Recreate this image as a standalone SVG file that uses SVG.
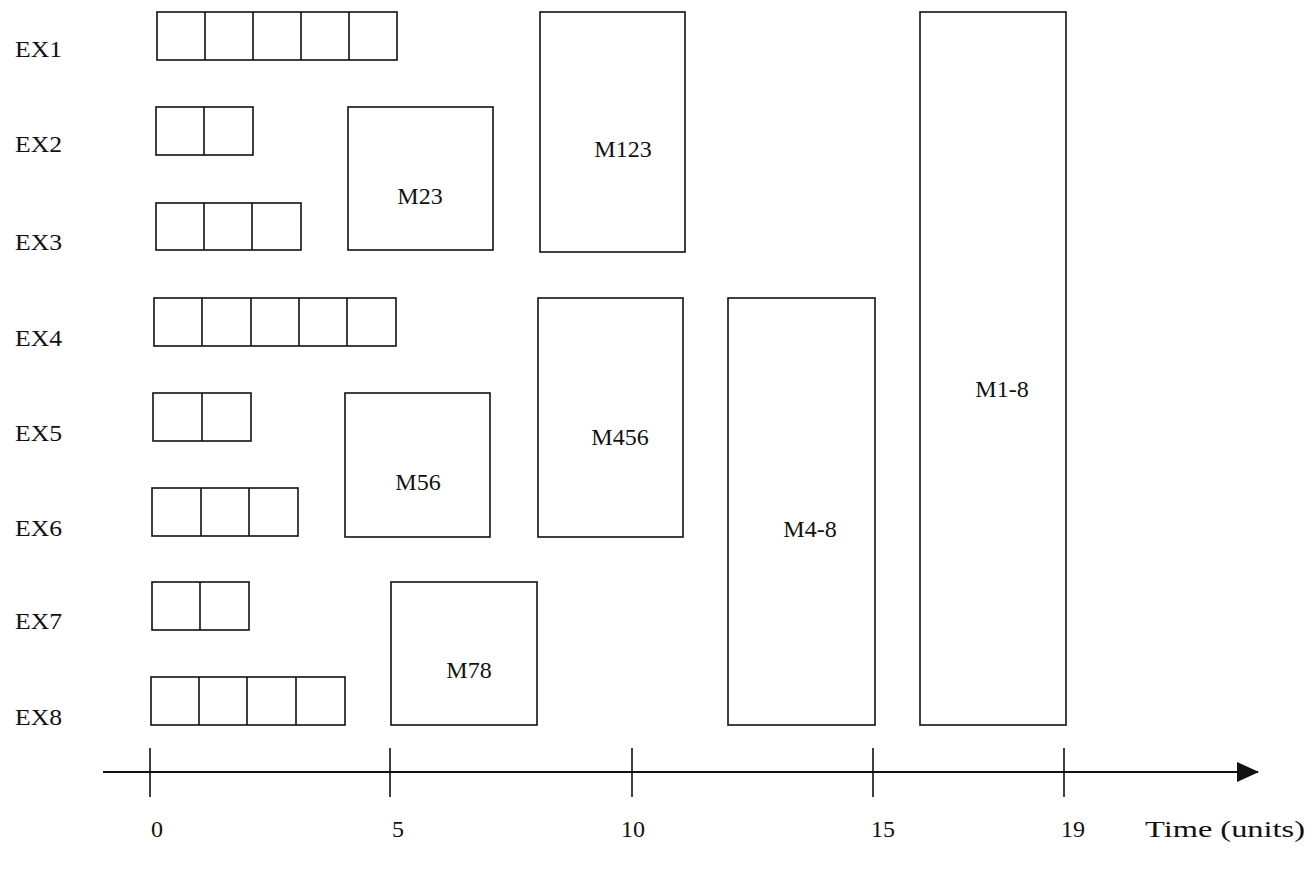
<svg xmlns="http://www.w3.org/2000/svg" width="1314" height="873" viewBox="0 0 1314 873">
<style>
.b{fill:none;stroke:#111;stroke-width:1.6}
.t{font-family:"Liberation Serif","Times New Roman",serif;font-size:24px;fill:#111}
.m{text-anchor:middle}
.ax{stroke:#111;stroke-width:1.8;fill:none}
</style>
<defs>
<marker id="arr" markerWidth="22" markerHeight="20" refX="21" refY="10" orient="auto" markerUnits="userSpaceOnUse">
<path d="M0,0 L22,10 L0,20 Z" fill="#111"/>
</marker>
</defs>
<rect width="1314" height="873" fill="#fff"/>
<g id="labels">
<text class="t" x="15" y="57" textLength="47" lengthAdjust="spacingAndGlyphs">EX1</text>
<text class="t" x="15" y="152" textLength="47" lengthAdjust="spacingAndGlyphs">EX2</text>
<text class="t" x="15" y="250" textLength="47" lengthAdjust="spacingAndGlyphs">EX3</text>
<text class="t" x="15" y="346" textLength="47" lengthAdjust="spacingAndGlyphs">EX4</text>
<text class="t" x="15" y="441" textLength="47" lengthAdjust="spacingAndGlyphs">EX5</text>
<text class="t" x="15" y="536" textLength="47" lengthAdjust="spacingAndGlyphs">EX6</text>
<text class="t" x="15" y="629" textLength="47" lengthAdjust="spacingAndGlyphs">EX7</text>
<text class="t" x="15" y="725" textLength="47" lengthAdjust="spacingAndGlyphs">EX8</text>
</g>
<g id="ex1"><rect class="b" x="157" y="12" width="240" height="48"/><path class="b" d="M205,12V60M253,12V60M301,12V60M349,12V60"/></g>
<g id="ex2"><rect class="b" x="156" y="107" width="97" height="48"/><path class="b" d="M204,107V155"/></g>
<g id="ex3"><rect class="b" x="156" y="203" width="145" height="47"/><path class="b" d="M204,203V250M252,203V250"/></g>
<g id="ex4"><rect class="b" x="154" y="298" width="242" height="48"/><path class="b" d="M202,298V346M251,298V346M299,298V346M347,298V346"/></g>
<g id="ex5"><rect class="b" x="153" y="393" width="98" height="48"/><path class="b" d="M202,393V441"/></g>
<g id="ex6"><rect class="b" x="152" y="488" width="146" height="48"/><path class="b" d="M201,488V536M249,488V536"/></g>
<g id="ex7"><rect class="b" x="152" y="582" width="97" height="48"/><path class="b" d="M200,582V630"/></g>
<g id="ex8"><rect class="b" x="151" y="677" width="194" height="48"/><path class="b" d="M199,677V725M247,677V725M296,677V725"/></g>
<g id="m23"><rect class="b" x="348" y="107" width="145" height="143"/><text class="t m" x="420" y="204">M23</text></g>
<g id="m123"><rect class="b" x="540" y="12" width="145" height="240"/><text class="t m" x="623" y="157">M123</text></g>
<g id="m456"><rect class="b" x="538" y="298" width="145" height="239"/><text class="t m" x="620" y="445">M456</text></g>
<g id="m56"><rect class="b" x="345" y="393" width="145" height="144"/><text class="t m" x="418" y="490">M56</text></g>
<g id="m78"><rect class="b" x="391" y="582" width="146" height="143"/><text class="t m" x="469" y="678">M78</text></g>
<g id="m4-8"><rect class="b" x="728" y="298" width="147" height="427"/><text class="t m" x="810" y="537">M4-8</text></g>
<g id="m1-8"><rect class="b" x="920" y="12" width="146" height="713"/><text class="t m" x="1002" y="397">M1-8</text></g>
<g id="connectors">
<line class="ax" x1="103" y1="772" x2="1258" y2="772" marker-end="url(#arr)"/>
<path class="b" d="M150,748V797M390,748V797M632,748V797M873,748V797M1064,748V797"/>
</g>
<g id="ticks">
<text class="t m" x="157" y="837">0</text>
<text class="t m" x="398" y="837">5</text>
<text class="t m" x="633" y="837">10</text>
<text class="t m" x="883" y="837">15</text>
<text class="t m" x="1073" y="837">19</text>
<text class="t" x="1145" y="837" textLength="160" lengthAdjust="spacingAndGlyphs">Time (units)</text>
</g>
</svg>
